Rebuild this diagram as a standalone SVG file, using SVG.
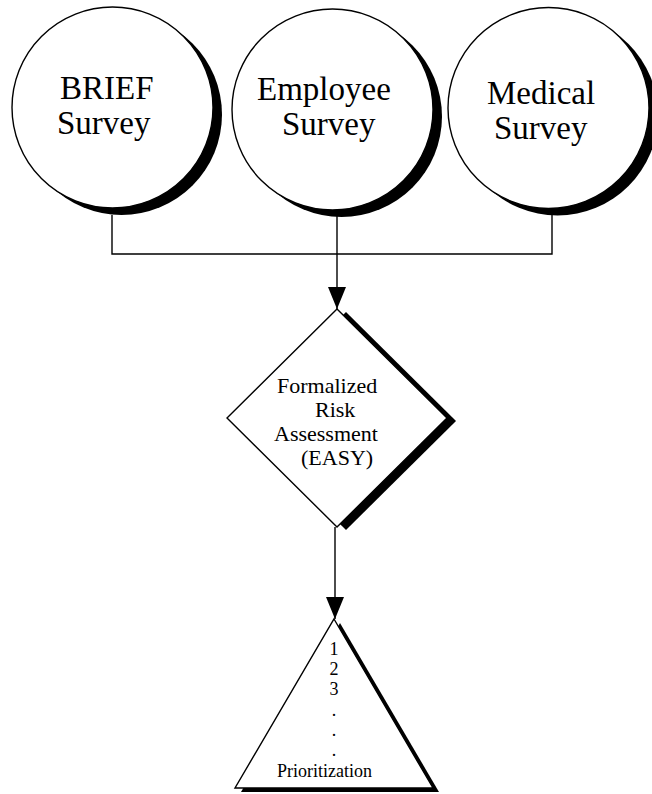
<svg xmlns="http://www.w3.org/2000/svg" width="652" height="794" viewBox="0 0 652 794">
<style>
.shape{fill:#fff;stroke:#000;stroke-width:1.4}
.shadow{fill:#000;stroke:none}
.conn{fill:none;stroke:#000;stroke-width:1.4}
.big{font-family:"Liberation Serif","Times New Roman",serif;font-size:33px;fill:#000}
.mid{font-family:"Liberation Serif","Times New Roman",serif;font-size:22px;fill:#000}
.small{font-family:"Liberation Serif","Times New Roman",serif;font-size:18px;fill:#000}
</style>
<defs>
<marker id="arr" markerUnits="userSpaceOnUse" markerWidth="22" markerHeight="18" refX="22" refY="9" orient="auto">
<path d="M0,0 L22,9 L0,18 z" fill="#000"/>
</marker>
</defs>
<rect width="652" height="794" fill="#fff"/>
<g id="brief">
<circle class="shadow" cx="121.5" cy="114.5" r="100.5"/>
<circle class="shape" cx="112.5" cy="107.5" r="100.5"/>
<text class="big" x="60" y="99">BRIEF</text>
<text class="big" x="57" y="134">Survey</text>
</g>
<g id="employee">
<circle class="shadow" cx="341.5" cy="116.5" r="100.5"/>
<circle class="shape" cx="332.5" cy="109.5" r="100.5"/>
<text class="big" x="257" y="100">Employee</text>
<text class="big" x="282" y="135">Survey</text>
</g>
<g id="medical">
<circle class="shadow" cx="557.5" cy="115" r="100.5"/>
<circle class="shape" cx="548.5" cy="108" r="100.5"/>
<text class="big" x="487" y="104">Medical</text>
<text class="big" x="494" y="139">Survey</text>
</g>
<g id="connectors">
<polyline class="conn" points="112,215 112,254 552,254 552,209"/>
<line class="conn" x1="337" y1="210" x2="337" y2="309" marker-end="url(#arr)"/>
<line class="conn" x1="335" y1="527" x2="335" y2="619" marker-end="url(#arr)"/>
</g>
<g id="assessment">
<polygon class="shadow" points="346,312 456,421 346,530 236,421"/>
<polygon class="shape" points="337,309 447,418 337,527 227,418"/>
<text class="mid" x="277" y="393">Formalized</text>
<text class="mid" x="315" y="417">Risk</text>
<text class="mid" x="274" y="441">Assessment</text>
<text class="mid" x="301" y="465">(EASY)</text>
</g>
<g id="prioritization">
<polygon class="shadow" points="340,623 439,792 241,792"/>
<polygon class="shape" points="334,619 433,788 235,788"/>
<text class="small" x="334" y="655" text-anchor="middle">1</text>
<text class="small" x="334" y="675" text-anchor="middle">2</text>
<text class="small" x="334" y="695" text-anchor="middle">3</text>
<text class="small" x="334" y="716" text-anchor="middle">.</text>
<text class="small" x="334" y="736" text-anchor="middle">.</text>
<text class="small" x="334" y="756" text-anchor="middle">.</text>
<text class="small" x="277" y="777">Prioritization</text>
</g>
</svg>
